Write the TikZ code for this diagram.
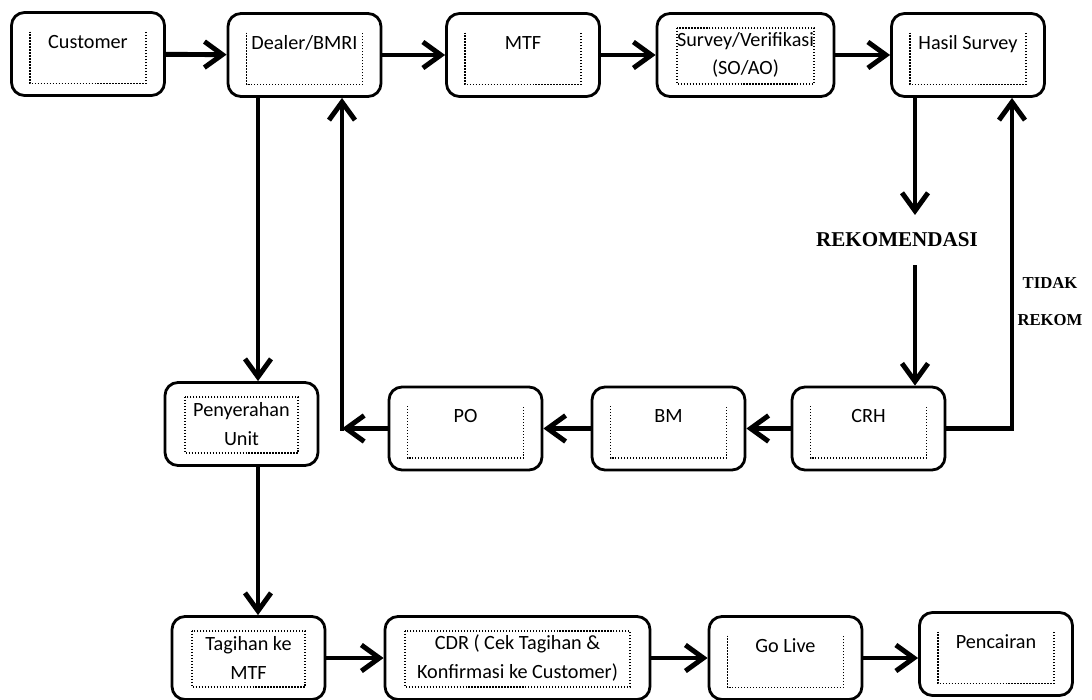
\documentclass[tikz,border=0pt]{standalone}
\usepackage{fontspec}
\setmainfont{Carlito}
\newfontfamily\rekfont{Liberation Serif}
\usetikzlibrary{arrows.meta}

\begin{document}
\begin{tikzpicture}[
  box/.style={draw, line width=1.6pt, rounded corners=2.6mm, minimum width=3.06cm,
    minimum height=1.66cm, align=center, font=\fontsize{11.5}{16}\selectfont},
  oneline/.style={text height=3mm, text depth=5.4mm},
  inner/.style={densely dotted, line width=0.7pt, sharp corners},
  dotfull/.style={path picture={\draw[inner]
    ([shift={(0.4,-0.29)}]path picture bounding box.north west) rectangle
    ([shift={(-0.4,0.25)}]path picture bounding box.south east);}},
  dotopen/.style={path picture={\draw[inner]
    ([shift={(0.37,-0.38)}]path picture bounding box.north west) |-
    ([shift={(-0.37,0.24)}]path picture bounding box.south east) --
    ([shift={(-0.37,-0.38)}]path picture bounding box.north east);}},
  arr/.style={-{Straight Barb[length=3.6mm,width=5.2mm]}, line width=2.8pt},
  lab/.style={font=\rekfont\bfseries, inner sep=0pt}
]
\useasboundingbox (0,0) rectangle (21.84,-14);

% --- Top row ---
\node[box, oneline, dotopen] (cust)   at (1.76,-1.08)  {Customer};
\node[box, oneline, dotopen] (dealer) at (6.09,-1.10)  {Dealer/BMRI};
\node[box, oneline, dotopen] (mtf)    at (10.46,-1.10) {MTF};
\node[box, dotfull, minimum width=3.54cm] (survey) at (14.91,-1.10) {Survey/Verifikasi\\(SO/AO)};
\node[box, oneline, dotopen] (hasil)  at (19.36,-1.10) {Hasil Survey};

% --- Middle row ---
\node[box, dotfull] (peny) at (4.83,-8.48)  {Penyerahan\\Unit};
\node[box, oneline, dotopen] (po)  at (9.31,-8.57)  {PO};
\node[box, oneline, dotopen] (bm)  at (13.37,-8.57) {BM};
\node[box, oneline, dotopen] (crh) at (17.37,-8.57) {CRH};

% --- Bottom row ---
\node[box, dotfull] (tagih) at (4.97,-13.16) {Tagihan ke\\MTF};
\node[box, dotfull, minimum width=5.3cm] (cdr) at (10.35,-13.16) {CDR ( Cek Tagihan \&\\Konfirmasi ke Customer)};
\node[box, oneline, dotopen] (golive) at (15.71,-13.16) {Go Live};
\node[box, oneline, dotopen] (cair)   at (19.92,-13.08) {Pencairan};

% --- Labels ---
\node[lab, font=\rekfont\bfseries\fontsize{12}{14}\selectfont, inner ysep=10pt] (rek) at (17.94,-4.80) {REKOMENDASI};
\node[lab, align=center, font=\rekfont\bfseries\fontsize{9.5}{21}\selectfont] (tidak) at (21.0,-6.03) {TIDAK\\REKOM};

% --- Helper points ---
\coordinate (dl)  at ([xshift=-9.3mm]dealer.south);
\coordinate (ret) at (6.84,-8.57);
\coordinate (hx)  at ([xshift=-10.6mm]hasil.south);
\coordinate (tr)  at (20.24,-8.57);

% --- Top row arrows ---
\draw[arr] (cust) -- (dealer);
\draw[arr] (dealer) -- (mtf);
\draw[arr] (mtf) -- (survey);
\draw[arr] (survey) -- (hasil);

% --- Left side ---
\draw[arr] (dl) -- (dl |- peny.north);
\draw[arr] (dl |- peny.south) -- (dl |- tagih.north);

% --- Middle row arrows ---
\draw[arr] (crh) -- (bm);
\draw[arr] (bm) -- (po);
\draw[arr] (po) -- (ret);
\draw[arr] ([yshift=-1.4pt]ret) -- (ret |- dealer.south);

% --- Right side ---
\draw[arr] (hx) -- (hx |- rek.north);
\draw[arr] (hx |- rek.south) -- (hx |- crh.north);
\draw[arr] (crh) -- (tr) -- (tr |- hasil.south);

% --- Bottom row arrows ---
\draw[arr] (tagih) -- (cdr);
\draw[arr] (cdr) -- (golive);
\draw[arr] (golive) -- (golive -| cair.west);

\end{tikzpicture}
\end{document}
